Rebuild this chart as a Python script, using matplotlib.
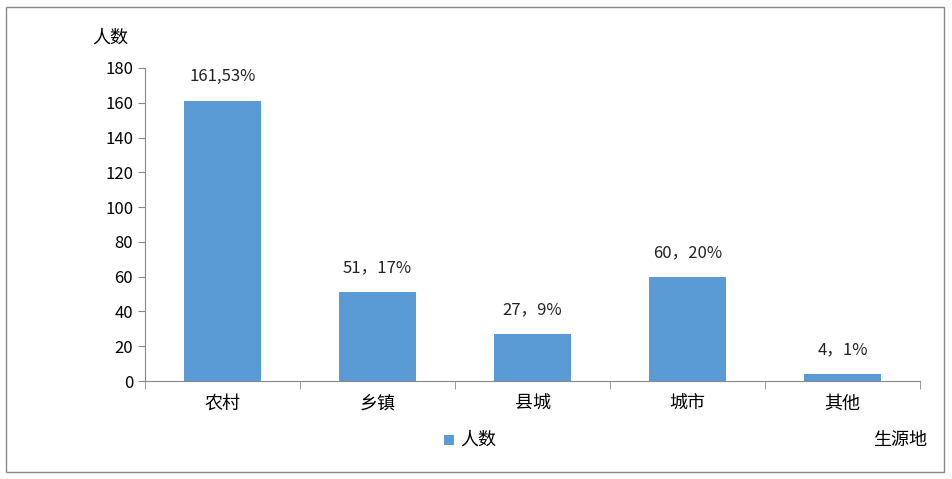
import matplotlib
matplotlib.use('Agg')
from matplotlib import pyplot as plt
from matplotlib.patches import Rectangle

plt.rcParams['font.family'] = ['Noto Sans CJK SC', 'DejaVu Sans']

categories = ['农村', '乡镇', '县城', '城市', '其他']
counts = [161, 51, 27, 60, 4]
labels = ['161,53%', '51，17%', '27，9%', '60，20%', '4，1%']
yticks = [0, 20, 40, 60, 80, 100, 120, 140, 160, 180]

W, H = 952, 479
fig = plt.figure(figsize=(W / 100, H / 100), dpi=100)
fig.patches.append(Rectangle((6 / W, 7 / H), 938 / W, 465 / H, transform=fig.transFigure,
                             fill=False, edgecolor='#888888', linewidth=1))
ax = fig.add_axes([145 / W, 1 - 381 / H, 775 / W, 313 / H])

bar_color = '#5B9BD5'
x = range(len(categories))
bars = ax.bar(x, counts, width=0.5, color=bar_color)
for b, lab in zip(bars, labels):
    ax.text(b.get_x() + b.get_width() / 2, b.get_height() + 9, lab,
            ha='center', va='bottom', fontsize=12, color='#222222')

ax.set_xlim(-0.5, len(categories) - 0.5)
ax.set_ylim(0, 180)
ax.set_yticks(yticks)
ax.set_xticks(x)
ax.set_xticklabels(categories, fontsize=13)
ax.set_xticks([i + 0.5 for i in range(-1, len(categories))], minor=True)
ax.tick_params(axis='x', which='major', length=0, pad=10)
ax.tick_params(axis='x', which='minor', length=6, color='#888888', direction='out')
ax.tick_params(axis='y', length=5, color='#888888', labelsize=12)
for s in ['top', 'right']:
    ax.spines[s].set_visible(False)
for s in ['left', 'bottom']:
    ax.spines[s].set_color('#888888')

fig.text(110 / W, 1 - 38 / H, '人数', fontsize=13, ha='center', va='center')
fig.text(900 / W, 1 - 440 / H, '生源地', fontsize=13, ha='center', va='center')
fig.patches.append(Rectangle((444 / W, 1 - 445 / H), 10 / W, 10 / H, transform=fig.transFigure,
                             facecolor=bar_color, edgecolor='none'))
fig.text(460 / W, 1 - 440 / H, '人数', fontsize=13, ha='left', va='center')

fig.savefig('out.png', dpi=100)
